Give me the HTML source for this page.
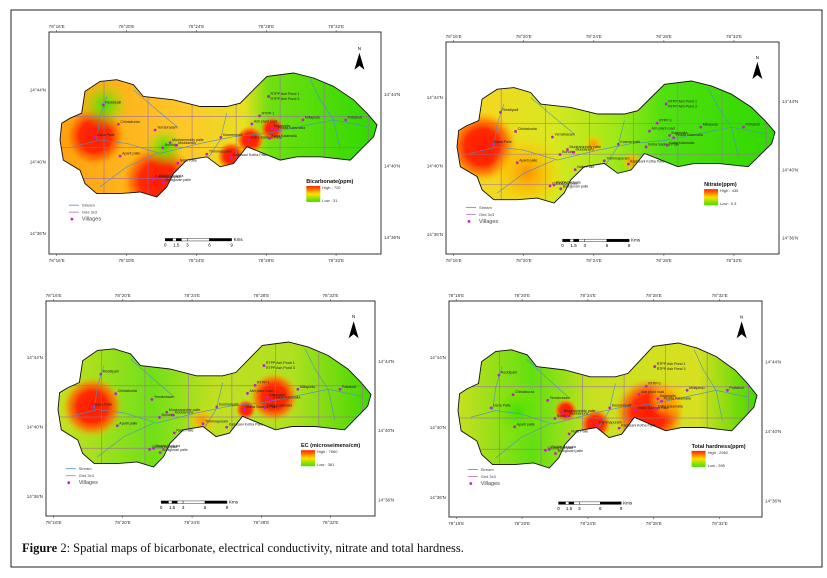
<!DOCTYPE html>
<html><head><meta charset="utf-8"><style>
html,body{margin:0;padding:0;background:#fff}
svg{display:block}
text{font-family:"Liberation Sans",sans-serif}
</style></head><body>
<svg id="fig" width="827" height="578" viewBox="0 0 827 578" xmlns="http://www.w3.org/2000/svg">
<defs>
<radialGradient id="hot"><stop offset="0" stop-color="#ff1a00"/><stop offset="0.5" stop-color="#ff2a00"/><stop offset="0.75" stop-color="#ff7000" stop-opacity="0.8"/><stop offset="1" stop-color="#ffb000" stop-opacity="0"/></radialGradient>
<radialGradient id="warm"><stop offset="0" stop-color="#ff9000"/><stop offset="0.6" stop-color="#ffc000" stop-opacity="0.6"/><stop offset="1" stop-color="#ffd000" stop-opacity="0"/></radialGradient>
<radialGradient id="cool"><stop offset="0" stop-color="#40e000"/><stop offset="1" stop-color="#a0e800" stop-opacity="0"/></radialGradient>
<linearGradient id="base0" x1="0" x2="1"><stop offset="0" stop-color="#ffa010"/><stop offset="0.4" stop-color="#ffc828"/><stop offset="0.58" stop-color="#e8e020"/><stop offset="0.66" stop-color="#70e010"/><stop offset="1" stop-color="#30d800"/></linearGradient>
<linearGradient id="base1" x1="0" x2="1"><stop offset="0" stop-color="#ffd020"/><stop offset="0.3" stop-color="#d8e820"/><stop offset="0.5" stop-color="#a0e818"/><stop offset="0.65" stop-color="#50e010"/><stop offset="1" stop-color="#30d800"/></linearGradient>
<linearGradient id="base2" x1="0" x2="1"><stop offset="0" stop-color="#c8e020"/><stop offset="0.3" stop-color="#70e018"/><stop offset="0.5" stop-color="#c0e020"/><stop offset="0.75" stop-color="#b0e020"/><stop offset="1" stop-color="#40d800"/></linearGradient>
<linearGradient id="base3" x1="0" x2="1"><stop offset="0" stop-color="#c8e020"/><stop offset="0.25" stop-color="#60e010"/><stop offset="0.45" stop-color="#c8e020"/><stop offset="0.8" stop-color="#d8e020"/><stop offset="1" stop-color="#40d800"/></linearGradient>
<linearGradient id="leg" x1="0" x2="0" y1="0" y2="1"><stop offset="0" stop-color="#ff2000"/><stop offset="0.5" stop-color="#ffe000"/><stop offset="1" stop-color="#40e000"/></linearGradient>
</defs>
<rect x="11" y="10" width="811" height="557" fill="none" stroke="#222" stroke-width="1"/>
<text x="22" y="552" font-family="Liberation Serif" font-size="12.5" fill="#111" style="font-family:'Liberation Serif',serif"><tspan font-weight="bold">Figure</tspan> 2: Spatial maps of bicarbonate, electrical conductivity, nitrate and total hardness.</text>
<g id="panels"></g>
</svg>
<script>
// ---- data ----
const panelTitles = ["Bicarbonate(ppm)", "Nitrate(ppm)", "EC (microseimens/cm)", "Total hardness(ppm)"];
const highValues = [720, 435, 7660, 2962];
const lowValues = [31, 0.3, 381, 395];
const lonTicks = ["78°16'E", "78°20'E", "78°24'E", "78°28'E", "78°32'E"];
const latTicks = ["14°44'N", "14°40'N", "14°36'N"];
const scaleLabels = ["0", "1.5", "3", "6", "9"];
const hotX = [0.11, 0.31, 0.60, 0.67, 0.54, 0.14, 0.33,   0.08, 0.43, 0.55, 0.22,   0.11, 0.69, 0.60, 0.46,   0.64, 0.46, 0.36, 0.70, 0.20];
const hotY = [0.51, 0.87, 0.54, 0.45, 0.67, 0.26, 0.60,   0.54, 0.52, 0.66, 0.75,   0.52, 0.44, 0.54, 0.63,   0.56, 0.65, 0.54, 0.45, 0.55];
const hotR = [0.075, 0.09, 0.035, 0.03, 0.035, 0.06, 0.05, 0.085, 0.025, 0.025, 0.09,   0.075, 0.06, 0.025, 0.035,  0.09, 0.04, 0.03, 0.05, 0.08];
const hotP = [0,0,0,0,0,0,0, 1,1,1,1, 2,2,2,2, 3,3,3,3,3];
const hotT = ["hot","hot","hot","hot","hot","cool","cool", "hot","warm","warm","warm", "hot","hot","hot","warm", "hot","hot","hot","warm","cool"];
const villages = ["Reddipalli","Chintakunta","Yerrabrasam","Dana Palle","Muniramreddy palle","Bondala","Muddanuru","Aparti palle","Nalla Palle","Chinna Dudyala","Pedda Dudyala","Bodigovari palle","Kosmeripalli","Thimmapuram","Kadasani Kotha Palle","Indira Sadaya Palle","Kalamalla","Pedda Kalamalla","Kotta Kalamalla","Ash plant road","RTPP-1","Millapedu","Pottabuti","RTPP Ash Pond 1","RTPP Ash Pond 3"];
const vilX = [310,355,465,285,510,488,528,360,533,458,470,490,662,620,692,745,815,827,808,755,778,908,1036,805,805];
const vilY = [315,373,390,412,428,443,436,468,489,538,535,547,412,462,472,420,385,392,415,372,348,360,360,290,290];

// ---- layout ----
const frames = [[49,32,332,222],[446,42,333,212],[46,301,329,215],[449,301,313,216]];
const shapeBox = [[60,73,317,124],[457,81,318,122],[58,342,313,125],[458,343,299,125]];
const shapePts = [[210,355],[245,340],[255,275],[300,245],[350,240],[400,255],[430,290],[520,300],[600,320],[680,320],[720,310],[760,270],[800,230],[880,220],[940,235],[1000,260],[1060,300],[1100,340],[1130,375],[1120,410],[1080,450],[1050,480],[960,470],[890,470],[840,480],[790,460],[740,440],[700,490],[660,500],[620,470],[560,480],[520,520],[500,560],[470,590],[420,575],[360,580],[290,580],[255,550],[240,510],[190,480],[180,420],[185,370]];
const NS="http://www.w3.org/2000/svg";
const root=document.getElementById('panels');
function mk(tag,attrs,parent){const e=document.createElementNS(NS,tag);for(const k in attrs)e.setAttribute(k,attrs[k]);(parent||root).appendChild(e);return e;}

frames.forEach((f,p)=>{
  const [fx,fy,fw,fh]=f; const [sx,sy,sw,sh]=shapeBox[p];
  const g=mk('g',{});
  
  
  const fr=mk('rect',{x:fx,y:fy,width:fw,height:fh,fill:'#fff',stroke:'#333','stroke-width':1},g);
  
  
  const X=u=>sx+(u-180)/950*sw, Y=v=>sy+(v-220)/370*sh;
  const pts=shapePts.map(q=>X(q[0]).toFixed(1)+','+Y(q[1]).toFixed(1)).join(' ');
  const cp=mk('clipPath',{id:'clip'+p},g); mk('polygon',{points:pts},cp);
  const inner=mk('g',{'clip-path':'url(#clip'+p+')'},g);
  mk('rect',{x:sx,y:sy,width:sw,height:sh,fill:'url(#base'+p+')'},inner);
  for(let i=0;i<hotX.length;i++){ if(hotP[i]!==p) continue;
    const c=mk('ellipse',{cx:sx+hotX[i]*sw,cy:sy+hotY[i]*sh,rx:hotR[i]*sw*1.3,ry:hotR[i]*sw*1.3,fill:'url(#'+hotT[i]+')'},inner);
    
    
  }
  for(let k=1;k<8;k++){mk('line',{x1:sx+k*sw/7.2,y1:sy,x2:sx+k*sw/7.2,y2:sy+sh,stroke:'#a06aa8','stroke-width':0.7,opacity:0.8},inner);}
  [0.35,0.6,0.85].forEach(t=>mk('line',{x1:sx,y1:sy+t*sh,x2:sx+sw,y2:sy+t*sh,stroke:'#a06aa8','stroke-width':0.7,opacity:0.8},inner));
  const st=[[[220,440],[300,420],[380,430],[480,460],[600,430],[700,410],[800,400],[900,380],[1000,360],[1100,380]],[[300,560],[380,500],[470,460]],[[400,270],[470,330],[530,380]],[[930,240],[960,300],[1000,360],[1020,450]],[[620,480],[660,420],[680,340]],[[320,290],[300,350],[290,420]]];
  st.forEach(s=>mk('polyline',{points:s.map(q=>X(q[0]).toFixed(1)+','+Y(q[1]).toFixed(1)).join(' '),fill:'none',stroke:'#4a90c8','stroke-width':0.6},inner));
  const ol=mk('polygon',{points:pts,fill:'none',stroke:'#111','stroke-width':0.9},g);
  
  
  for(let i=0;i<villages.length;i++){
    const d=mk('circle',{cx:X(vilX[i]),cy:Y(vilY[i]),r:1.4,fill:'#c020d0'},g);
    
    
    const t=mk('text',{x:X(vilX[i])+2,y:Y(vilY[i])-1.5+(i===24?5:0),'font-size':3.6,fill:'#222'},g);
    t.textContent=villages[i];
    
    
  }
  lonTicks.forEach((lab,k)=>{
    const x=fx+(23+k*210)/998*fw;
    [[fy-4,fy],[fy+fh+8,fy+fh]].forEach((yy,j)=>{
      mk('line',{x1:x,y1:yy[1],x2:x,y2:yy[1]+(j?2:-2),stroke:'#333','stroke-width':0.5},g);
      const t=mk('text',{x:x,y:yy[0],'font-size':4.6,'text-anchor':'middle',fill:'#333'},g);
      t.textContent=lab;
      
      
    });
  });
  latTicks.forEach((lab,k)=>{
    const yl=fy+(175+k*216)/668*fh, yr=fy+(188+k*215)/668*fh;
    const t1=mk('text',{x:fx-3,y:yl+1.5,'font-size':4.6,'text-anchor':'end',fill:'#333'},g); t1.textContent=lab;
    
    
    const t2=mk('text',{x:fx+fw+3,y:yr+1.5,'font-size':4.6,fill:'#333'},g); t2.textContent=lab;
    
    
  });
  const nx=fx+fw*0.935, ny=fy+fh*0.08;
  const na=mk('polygon',{points:`${nx},${ny+3} ${nx+5},${ny+20} ${nx},${ny+16} ${nx-5},${ny+20}`,fill:'#000'},g);
  
  
  const nt=mk('text',{x:nx,y:ny,'font-size':4.5,'text-anchor':'middle'},g); nt.textContent='N';
  const lx=fx+fw*0.06, ly=fy+fh*0.78;
  mk('line',{x1:lx,y1:ly,x2:lx+10,y2:ly,stroke:'#4a90c8','stroke-width':0.8},g);
  mk('line',{x1:lx,y1:ly+7,x2:lx+10,y2:ly+7,stroke:'#b070c0','stroke-width':0.8},g);
  mk('circle',{cx:lx+3,cy:ly+14,r:1.4,fill:'#c020d0'},g);
  [['Stream',0],['Grid 3x3',7],['Villages',14]].forEach(a=>{const t=mk('text',{x:lx+13,y:ly+a[1]+1.5,'font-size':a[1]===14?5.5:4,fill:'#444'},g);t.textContent=a[0];
    });
  const cx=fx+fw*0.775, cy=fy+fh*0.68;
  const tt=mk('text',{x:cx,y:cy,'font-size':5.5,'font-weight':'bold',fill:'#111'},g); tt.textContent=panelTitles[p];
  
  mk('rect',{x:cx,y:cy+3,width:14,height:16,fill:'url(#leg)'},g);
  const th=mk('text',{x:cx+16,y:cy+6,'font-size':4,fill:'#333'},g); th.textContent='High : '+highValues[p];
  const tl=mk('text',{x:cx+16,y:cy+19,'font-size':4,fill:'#333'},g); tl.textContent='Low : '+lowValues[p];
  const bx=fx+fw*0.35, by=fy+fh*0.93, bw=fw*0.2;
  const segs=[[0,1/9,'#000'],[1/9,1.5/9,'#fff'],[1.5/9,2.2/9,'#000'],[2.2/9,3/9,'#fff'],[3/9,6/9,'#fff'],[6/9,1,'#000']];
  segs.forEach(s=>mk('rect',{x:bx+s[0]*bw,y:by,width:(s[1]-s[0])*bw,height:2.5,fill:s[2],stroke:'#000','stroke-width':0.4},g));
  [0,1.5,3,6,9].forEach((v,k)=>{const t=mk('text',{x:bx+v/9*bw,y:by+8,'font-size':4.5,'text-anchor':'middle'},g);t.textContent=scaleLabels[k];});
  const km=mk('text',{x:bx+bw+2,y:by+2.5,'font-size':4.5},g); km.textContent='Kms';
});
</script>
</body></html>
